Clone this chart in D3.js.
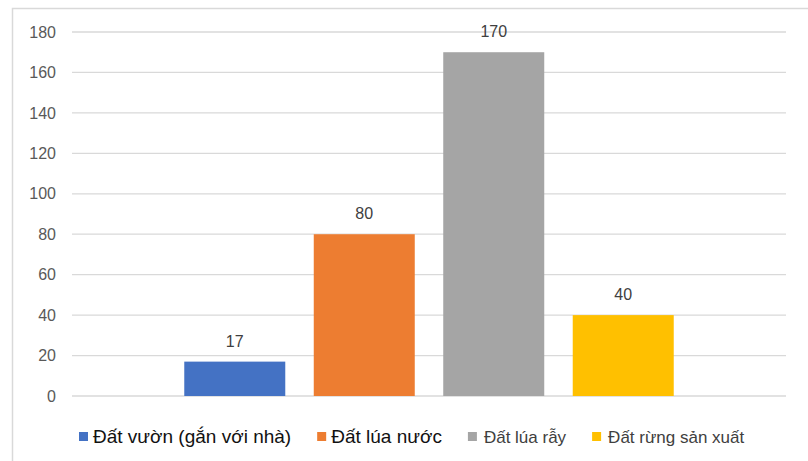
<!DOCTYPE html>
<html>
<head>
<meta charset="utf-8">
<script src="https://cdn.jsdelivr.net/npm/d3@7"></script>
<style>
  body { margin: 0; background: #fff; }
  svg text { font-family: "Liberation Sans", Arial, sans-serif; }
</style>
</head>
<body>
<div id="chart"></div>
<script>
// series names, values and colours
var series = ["Đất vườn (gắn với nhà)", "Đất lúa nước", "Đất lúa rẫy", "Đất rừng sản xuất"];
var values = [17, 80, 170, 40];
var colors = ["#4472C4", "#ED7D31", "#A5A5A5", "#FFC000"];
var yTicks = [0, 20, 40, 60, 80, 100, 120, 140, 160, 180];

const w = 808, h = 461;
const plot = {left: 72, right: 786, top: 32, bottom: 396};

const svg = d3.select("#chart").append("svg")
  .attr("width", w).attr("height", h);

// chart border
svg.append("rect")
  .attr("x", 12.5).attr("y", 8.5)
  .attr("width", 810).attr("height", 470)
  .attr("fill", "none").attr("stroke", "#D9D9D9").attr("stroke-width", 1.5);

const x = d3.scaleBand()
  .domain(series)
  .range([plot.left, plot.right])
  .paddingInner(0.22)
  .paddingOuter(0.867);

const y = d3.scaleLinear()
  .domain([0, 180])
  .range([plot.bottom, plot.top]);

// gridlines
svg.append("g")
  .selectAll("line")
  .data(yTicks)
  .enter().append("line")
  .attr("x1", plot.left).attr("x2", plot.right)
  .attr("y1", d => y(d)).attr("y2", d => y(d))
  .attr("stroke", "#D9D9D9").attr("stroke-width", 1.3);

// y axis labels
const yAxis = d3.axisLeft(y).tickValues(yTicks).tickSize(0).tickPadding(0);
svg.append("g")
  .attr("transform", "translate(56,0)")
  .call(yAxis)
  .call(g => g.select(".domain").remove())
  .selectAll("text")
  .attr("font-size", 16)
  .attr("fill", "#595959")
  .style("font-family", "Liberation Sans, Arial, sans-serif");

// bars
svg.selectAll("rect.bar")
  .data(values)
  .enter().append("rect")
  .attr("class", "bar")
  .attr("x", (d, i) => x(series[i]))
  .attr("y", d => y(d))
  .attr("width", x.bandwidth())
  .attr("height", d => y(0) - y(d))
  .attr("fill", (d, i) => colors[i]);

// value labels
svg.selectAll("text.val")
  .data(values)
  .enter().append("text")
  .attr("class", "val")
  .attr("x", (d, i) => x(series[i]) + x.bandwidth() / 2)
  .attr("y", d => y(d) - 15)
  .attr("text-anchor", "middle")
  .attr("font-size", 16)
  .attr("fill", "#404040")
  .text(d => d);

// legend (first two entries are rendered larger/darker in the original)
const legend = svg.append("g");
var lx = 79;
series.forEach(function(s, i) {
  legend.append("rect")
    .attr("x", lx).attr("y", 432)
    .attr("width", 9).attr("height", 9)
    .attr("fill", colors[i]);
  var t = legend.append("text")
    .attr("x", lx + (i < 2 ? 14 : 16)).attr("y", 443)
    .attr("font-size", i < 2 ? 19 : 17)
    .attr("fill", i < 2 ? "#111" : "#404040")
    .text(s);
  lx += (i < 2 ? 14 : 16) + t.node().getComputedTextLength() + 26;
});
</script>
</body>
</html>
